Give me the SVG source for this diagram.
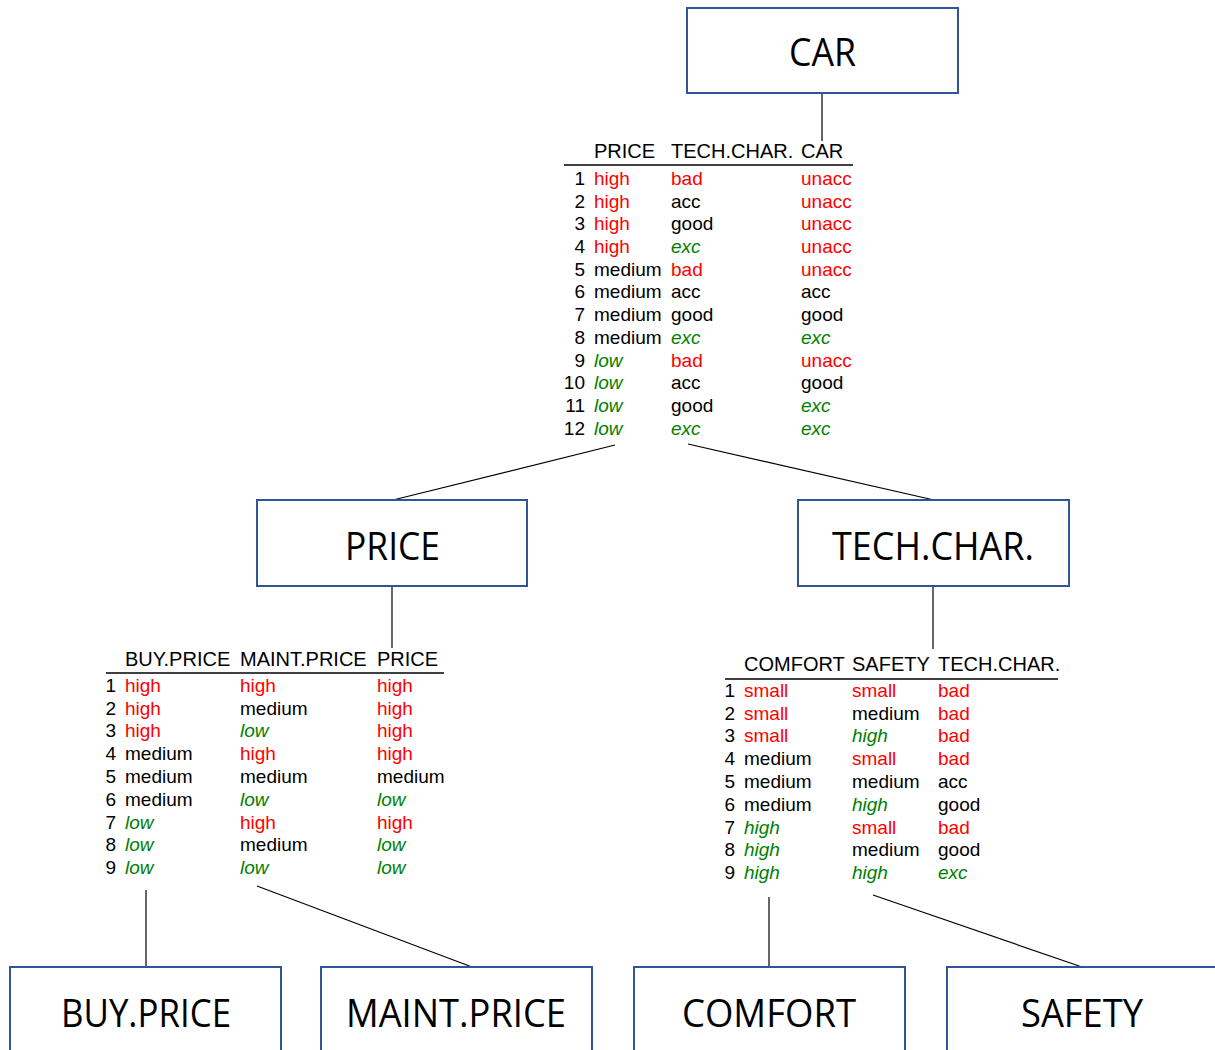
<svg xmlns="http://www.w3.org/2000/svg" width="1215" height="1050" viewBox="0 0 1215 1050">
<style>
.box{fill:#fff;stroke:#2F5597;stroke-width:2}
.lbl{font-family:"Open Sans","Noto Sans",sans-serif;font-size:39px;fill:#000;text-anchor:middle}
.t{font-family:"Liberation Sans",Arial,sans-serif;font-size:19px;fill:#000}
.h{font-family:"Liberation Sans",Arial,sans-serif;font-size:20px;fill:#000}
.n{text-anchor:end}
.r{fill:#ff0000}
.g{fill:#008000;font-style:italic}
.rule{stroke:#000;stroke-width:1.5}
.conn line{stroke:#000;stroke-width:1.2}
</style>
<rect width="1215" height="1050" fill="#fff"/>
<g id="connectors" class="conn">
<line x1="822" y1="93" x2="822" y2="141"/>
<line x1="615" y1="445" x2="393" y2="500"/>
<line x1="688" y1="444" x2="934" y2="500"/>
<line x1="392" y1="586" x2="392" y2="648"/>
<line x1="933" y1="586" x2="933" y2="649"/>
<line x1="146" y1="890" x2="146" y2="967"/>
<line x1="257" y1="886" x2="472" y2="967"/>
<line x1="769" y1="897" x2="769" y2="967"/>
<line x1="873" y1="895" x2="1082" y2="967"/>
</g>
<g id="node-car"><rect class="box" x="687" y="8" width="271" height="85"/><text class="lbl" x="822.5" y="66" textLength="67" lengthAdjust="spacingAndGlyphs">CAR</text></g>
<g id="node-price"><rect class="box" x="257" y="500" width="270" height="86"/><text class="lbl" x="392.5" y="560" textLength="95" lengthAdjust="spacingAndGlyphs">PRICE</text></g>
<g id="node-techchar"><rect class="box" x="798" y="500" width="271" height="86"/><text class="lbl" x="933" y="560" textLength="202" lengthAdjust="spacingAndGlyphs">TECH.CHAR.</text></g>
<g id="node-buyprice"><rect class="box" x="10" y="967" width="271" height="90"/><text class="lbl" x="146" y="1027" textLength="170" lengthAdjust="spacingAndGlyphs">BUY.PRICE</text></g>
<g id="node-maintprice"><rect class="box" x="321" y="967" width="271" height="90"/><text class="lbl" x="456" y="1027" textLength="220" lengthAdjust="spacingAndGlyphs">MAINT.PRICE</text></g>
<g id="node-comfort"><rect class="box" x="634" y="967" width="271" height="90"/><text class="lbl" x="769" y="1027" textLength="174" lengthAdjust="spacingAndGlyphs">COMFORT</text></g>
<g id="node-safety"><rect class="box" x="947" y="967" width="275" height="90"/><text class="lbl" x="1082" y="1027" textLength="122" lengthAdjust="spacingAndGlyphs">SAFETY</text></g>

<g id="table-car">
<text class="h" x="594" y="158">PRICE</text><text class="h" x="671" y="158">TECH.CHAR.</text><text class="h" x="801" y="158">CAR</text>
<line class="rule" x1="564" y1="165" x2="853" y2="165"/>
<text class="t n" x="585" y="185">1</text><text class="t r" x="594" y="185">high</text><text class="t r" x="671" y="185">bad</text><text class="t r" x="801" y="185">unacc</text>
<text class="t n" x="585" y="208">2</text><text class="t r" x="594" y="208">high</text><text class="t" x="671" y="208">acc</text><text class="t r" x="801" y="208">unacc</text>
<text class="t n" x="585" y="230">3</text><text class="t r" x="594" y="230">high</text><text class="t" x="671" y="230">good</text><text class="t r" x="801" y="230">unacc</text>
<text class="t n" x="585" y="253">4</text><text class="t r" x="594" y="253">high</text><text class="t g" x="671" y="253">exc</text><text class="t r" x="801" y="253">unacc</text>
<text class="t n" x="585" y="276">5</text><text class="t" x="594" y="276">medium</text><text class="t r" x="671" y="276">bad</text><text class="t r" x="801" y="276">unacc</text>
<text class="t n" x="585" y="298">6</text><text class="t" x="594" y="298">medium</text><text class="t" x="671" y="298">acc</text><text class="t" x="801" y="298">acc</text>
<text class="t n" x="585" y="321">7</text><text class="t" x="594" y="321">medium</text><text class="t" x="671" y="321">good</text><text class="t" x="801" y="321">good</text>
<text class="t n" x="585" y="344">8</text><text class="t" x="594" y="344">medium</text><text class="t g" x="671" y="344">exc</text><text class="t g" x="801" y="344">exc</text>
<text class="t n" x="585" y="367">9</text><text class="t g" x="594" y="367">low</text><text class="t r" x="671" y="367">bad</text><text class="t r" x="801" y="367">unacc</text>
<text class="t n" x="585" y="389">10</text><text class="t g" x="594" y="389">low</text><text class="t" x="671" y="389">acc</text><text class="t" x="801" y="389">good</text>
<text class="t n" x="585" y="412">11</text><text class="t g" x="594" y="412">low</text><text class="t" x="671" y="412">good</text><text class="t g" x="801" y="412">exc</text>
<text class="t n" x="585" y="435">12</text><text class="t g" x="594" y="435">low</text><text class="t g" x="671" y="435">exc</text><text class="t g" x="801" y="435">exc</text>
</g>

<g id="table-price">
<text class="h" x="125" y="666">BUY.PRICE</text><text class="h" x="240" y="666">MAINT.PRICE</text><text class="h" x="377" y="666">PRICE</text>
<line class="rule" x1="106" y1="673" x2="444" y2="673"/>
<text class="t n" x="116" y="692">1</text><text class="t r" x="125" y="692">high</text><text class="t r" x="240" y="692">high</text><text class="t r" x="377" y="692">high</text>
<text class="t n" x="116" y="715">2</text><text class="t r" x="125" y="715">high</text><text class="t" x="240" y="715">medium</text><text class="t r" x="377" y="715">high</text>
<text class="t n" x="116" y="737">3</text><text class="t r" x="125" y="737">high</text><text class="t g" x="240" y="737">low</text><text class="t r" x="377" y="737">high</text>
<text class="t n" x="116" y="760">4</text><text class="t" x="125" y="760">medium</text><text class="t r" x="240" y="760">high</text><text class="t r" x="377" y="760">high</text>
<text class="t n" x="116" y="783">5</text><text class="t" x="125" y="783">medium</text><text class="t" x="240" y="783">medium</text><text class="t" x="377" y="783">medium</text>
<text class="t n" x="116" y="806">6</text><text class="t" x="125" y="806">medium</text><text class="t g" x="240" y="806">low</text><text class="t g" x="377" y="806">low</text>
<text class="t n" x="116" y="829">7</text><text class="t g" x="125" y="829">low</text><text class="t r" x="240" y="829">high</text><text class="t r" x="377" y="829">high</text>
<text class="t n" x="116" y="851">8</text><text class="t g" x="125" y="851">low</text><text class="t" x="240" y="851">medium</text><text class="t g" x="377" y="851">low</text>
<text class="t n" x="116" y="874">9</text><text class="t g" x="125" y="874">low</text><text class="t g" x="240" y="874">low</text><text class="t g" x="377" y="874">low</text>
</g>

<g id="table-techchar">
<text class="h" x="744" y="671">COMFORT</text><text class="h" x="852" y="671">SAFETY</text><text class="h" x="938" y="671">TECH.CHAR.</text>
<line class="rule" x1="725" y1="679" x2="1058" y2="679"/>
<text class="t n" x="735" y="697">1</text><text class="t r" x="744" y="697">small</text><text class="t r" x="852" y="697">small</text><text class="t r" x="938" y="697">bad</text>
<text class="t n" x="735" y="720">2</text><text class="t r" x="744" y="720">small</text><text class="t" x="852" y="720">medium</text><text class="t r" x="938" y="720">bad</text>
<text class="t n" x="735" y="742">3</text><text class="t r" x="744" y="742">small</text><text class="t g" x="852" y="742">high</text><text class="t r" x="938" y="742">bad</text>
<text class="t n" x="735" y="765">4</text><text class="t" x="744" y="765">medium</text><text class="t r" x="852" y="765">small</text><text class="t r" x="938" y="765">bad</text>
<text class="t n" x="735" y="788">5</text><text class="t" x="744" y="788">medium</text><text class="t" x="852" y="788">medium</text><text class="t" x="938" y="788">acc</text>
<text class="t n" x="735" y="811">6</text><text class="t" x="744" y="811">medium</text><text class="t g" x="852" y="811">high</text><text class="t" x="938" y="811">good</text>
<text class="t n" x="735" y="834">7</text><text class="t g" x="744" y="834">high</text><text class="t r" x="852" y="834">small</text><text class="t r" x="938" y="834">bad</text>
<text class="t n" x="735" y="856">8</text><text class="t g" x="744" y="856">high</text><text class="t" x="852" y="856">medium</text><text class="t" x="938" y="856">good</text>
<text class="t n" x="735" y="879">9</text><text class="t g" x="744" y="879">high</text><text class="t g" x="852" y="879">high</text><text class="t g" x="938" y="879">exc</text>
</g>
</svg>
